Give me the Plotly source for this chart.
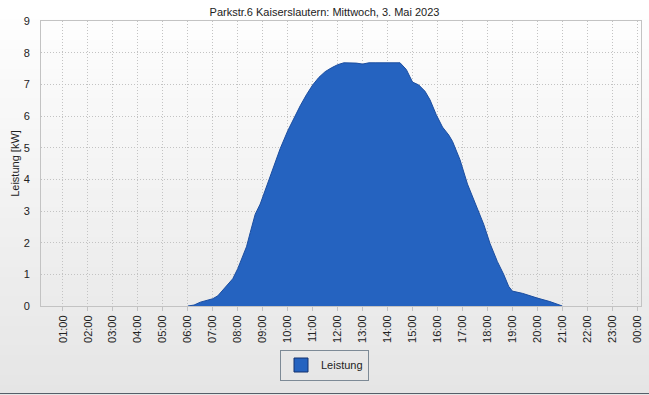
import plotly.graph_objects as go

# ---- data ----
hours = [6.0, 6.25, 6.5, 6.75, 7.0, 7.2, 7.4, 7.6, 7.8, 8.0, 8.2, 8.35, 8.5, 8.7, 8.9,
         9.1, 9.3, 9.5, 9.7, 10.0, 10.25, 10.5, 10.75, 11.0, 11.25, 11.5, 11.75, 12.0,
         12.25, 12.5, 12.75, 13.0, 13.25, 13.5, 14.0, 14.5, 14.75, 15.0, 15.25, 15.5,
         15.7, 15.95, 16.2, 16.45, 16.6, 16.9, 17.2, 17.55, 17.85, 18.1, 18.4, 18.65,
         18.85, 19.0, 19.4, 20.0, 20.5, 21.0]
leistung_kw = [0.0, 0.03, 0.12, 0.18, 0.23, 0.32, 0.50, 0.66, 0.86, 1.18, 1.55, 1.87, 2.32,
               2.90, 3.22, 3.65, 4.12, 4.55, 4.97, 5.53, 5.93, 6.32, 6.67, 6.98, 7.22,
               7.40, 7.52, 7.62, 7.68, 7.68, 7.67, 7.64, 7.68, 7.68, 7.68, 7.68, 7.47,
               7.07, 6.98, 6.78, 6.51, 6.04, 5.65, 5.40, 5.20, 4.62, 3.85, 3.17, 2.58,
               1.98, 1.40, 1.00, 0.62, 0.47, 0.40, 0.25, 0.14, 0.0]
tick_hours = list(range(1, 25))
tick_labels = ["%02d:00" % (h % 24) for h in tick_hours]
y_ticks = list(range(0, 10))

title = "Parkstr.6 Kaiserslautern: Mittwoch, 3. Mai 2023"
series_name = "Leistung"
FONT = "Liberation Sans"
FILL = "rgb(37,99,192)"
EDGE = "rgb(28,78,160)"
GRID = "rgb(195,195,195)"

W, H = 649, 395
ML, MR, MT, MB = 41, 8, 21, 89
pw, ph = W - ML - MR, H - MT - MB

fig = go.Figure()
fig.add_trace(go.Scatter(x=hours, y=leistung_kw, mode="lines", fill="tozeroy",
                         fillcolor=FILL, line=dict(color=EDGE, width=1),
                         showlegend=False, hoverinfo="x+y"))
fig.add_trace(go.Scatter(x=[None], y=[None], mode="markers", name=series_name,
                         marker=dict(symbol="square", size=14, color=FILL,
                                     line=dict(color="rgb(20,50,110)", width=1))))

# vertical background gradient (white -> light grey)
shapes = []
n = 40
y_bot = -MB / ph
y_top = 1 + MT / ph
for i in range(n):
    f0 = i / n
    f1 = (i + 1) / n
    c = int(round(255 - 26 * (1 - (f0 + f1) / 2)))
    shapes.append(dict(type="rect", xref="paper", yref="paper",
                       x0=-ML / pw, x1=1 + MR / pw,
                       y0=y_bot + (y_top - y_bot) * f0, y1=y_bot + (y_top - y_bot) * f1 + 0.002,
                       fillcolor="rgb(%d,%d,%d)" % (c, c, c), line=dict(width=0),
                       layer="below"))
# bottom border line
shapes.append(dict(type="line", xref="paper", yref="paper",
                   x0=-ML / pw, x1=1 + MR / pw, y0=y_bot + 1.5 / ph, y1=y_bot + 1.5 / ph,
                   line=dict(color="rgb(85,95,105)", width=1), layer="above"))

fig.update_layout(
    width=W, height=H,
    margin=dict(l=ML, r=MR, t=MT, b=MB, autoexpand=False),
    paper_bgcolor="rgb(240,240,240)",
    plot_bgcolor="rgba(0,0,0,0)",
    font=dict(family=FONT, size=11, color="#222"),
    title=dict(text=title, x=0.5, xanchor="center", y=1 - 12 / H, yanchor="middle",
               font=dict(family=FONT, size=11, color="#222")),
    shapes=shapes,
    showlegend=True,
    legend=dict(orientation="h", x=(W / 2 - ML) / pw, xanchor="center",
                y=-59 / ph, yanchor="middle",
                bordercolor="rgb(125,138,150)", borderwidth=1, bgcolor="rgba(0,0,0,0)",
                font=dict(family=FONT, size=11, color="#222"), itemsizing="trace"),
    xaxis=dict(range=[0.12, 24.15], tickmode="array", tickvals=tick_hours,
               ticktext=tick_labels, tickangle=-90, showgrid=True,
               gridcolor=GRID, griddash="1px,2px", gridwidth=1,
               showline=True, linecolor=GRID, mirror=True,
               ticks="outside", ticklen=4, tickcolor=GRID,
               zeroline=False, tickfont=dict(size=11)),
    yaxis=dict(range=[0, 9], tickmode="array", tickvals=y_ticks,
               title=dict(text="Leistung [kW]", standoff=1, font=dict(size=11)),
               showgrid=True, gridcolor=GRID, griddash="1px,2px", gridwidth=1,
               showline=True, linecolor=GRID, mirror=True,
               zeroline=False, ticks="", ticklabelstandoff=8, tickfont=dict(size=11)),
)

fig.write_html("out.html", config={"displayModeBar": False},
               post_script="document.body.style.margin='0';")
